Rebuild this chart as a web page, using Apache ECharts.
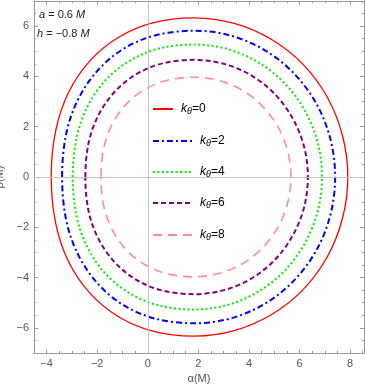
<!DOCTYPE html>
<html>
<head>
<meta charset="utf-8">
<script src="https://cdn.jsdelivr.net/npm/echarts@6/dist/echarts.min.js"></script>
<style>
  html, body { margin: 0; padding: 0; background: #fff; }
  #chart { width: 366px; height: 388px; }
</style>
</head>
<body>
<div id="chart"></div>
<script>
// shadow outlines (alpha, beta), one closed loop per k_theta
const shadowK0 = [
  [-3.82, 0], [-3.64, 1.85], [-3.13, 3.37], [-2.29, 4.62], [-1.17, 5.55], [0.19, 6.13], [1.85, 6.33],
  [3.42, 6.11], [4.88, 5.48], [6.14, 4.48], [7.10, 3.17], [7.70, 1.64], [7.91, 0],
  [7.70, -1.64], [7.10, -3.17], [6.14, -4.48], [4.88, -5.48], [3.42, -6.11], [1.85, -6.33],
  [0.19, -6.13], [-1.17, -5.55], [-2.29, -4.62], [-3.13, -3.37], [-3.64, -1.85], [-3.82, 0]
]
const shadowK2 = [
  [-3.39, 0], [-3.23, 1.70], [-2.75, 3.10], [-1.97, 4.25], [-0.94, 5.11], [0.32, 5.64], [1.85, 5.82],
  [3.29, 5.62], [4.63, 5.04], [5.78, 4.12], [6.67, 2.91], [7.22, 1.51], [7.41, 0],
  [7.22, -1.51], [6.67, -2.91], [5.78, -4.12], [4.63, -5.04], [3.29, -5.62], [1.85, -5.82],
  [0.32, -5.64], [-0.94, -5.11], [-1.97, -4.25], [-2.75, -3.10], [-3.23, -1.70], [-3.39, 0]
]
const shadowK4 = [
  [-2.97, 0], [-2.82, 1.54], [-2.38, 2.81], [-1.67, 3.85], [-0.72, 4.62], [0.44, 5.11], [1.85, 5.27],
  [3.15, 5.09], [4.37, 4.56], [5.41, 3.73], [6.21, 2.64], [6.72, 1.36], [6.89, 0],
  [6.72, -1.36], [6.21, -2.64], [5.41, -3.73], [4.37, -4.56], [3.15, -5.09], [1.85, -5.27],
  [0.44, -5.11], [-0.72, -4.62], [-1.67, -3.85], [-2.38, -2.81], [-2.82, -1.54], [-2.97, 0]
]
const shadowK6 = [
  [-2.47, 0], [-2.34, 1.36], [-1.94, 2.48], [-1.30, 3.40], [-0.45, 4.09], [0.59, 4.52], [1.85, 4.66],
  [3.01, 4.50], [4.09, 4.04], [5.02, 3.30], [5.73, 2.33], [6.18, 1.21], [6.33, 0],
  [6.18, -1.21], [5.73, -2.33], [5.02, -3.30], [4.09, -4.04], [3.01, -4.50], [1.85, -4.66],
  [0.59, -4.52], [-0.45, -4.09], [-1.30, -3.40], [-1.94, -2.48], [-2.34, -1.36], [-2.47, 0]
]
const shadowK8 = [
  [-1.85, 0], [-1.74, 1.16], [-1.40, 2.11], [-0.85, 2.90], [-0.12, 3.48], [0.77, 3.85], [1.85, 3.97],
  [2.84, 3.83], [3.76, 3.44], [4.54, 2.81], [5.15, 1.99], [5.53, 1.03], [5.66, 0],
  [5.53, -1.03], [5.15, -1.99], [4.54, -2.81], [3.76, -3.44], [2.84, -3.83], [1.85, -3.97],
  [0.77, -3.85], [-0.12, -3.48], [-0.85, -2.90], [-1.40, -2.11], [-1.74, -1.16], [-1.85, 0]
]

const kValues = ['0', '2', '4', '6', '8']
const seriesNames = kValues.map(k => 'kθ=' + k)

const alphaRange = [-4.5, 8.55]
const betaRange = [-7, 7]
const xMajorTicks = [-4, -2, 0, 2, 4, 6, 8]
const xMinorTicks = [-4, -3.5, -3, -2.5, -2, -1.5, -1, -0.5, 0, 0.5, 1, 1.5, 2, 2.5, 3, 3.5, 4, 4.5, 5, 5.5, 6, 6.5, 7, 7.5, 8, 8.5]
const yMajorTicks = [-6, -4, -2, 0, 2, 4, 6]
const yMinorTicks = [-6.5, -6, -5.5, -5, -4.5, -4, -3.5, -3, -2.5, -2, -1.5, -1, -0.5, 0, 0.5, 1, 1.5, 2, 2.5, 3, 3.5, 4, 4.5, 5, 5.5, 6, 6.5]

const FONT = '"Liberation Sans", Arial, sans-serif'
const frameGray = '#9a9a9a'
const labelGray = '#555'

const fmtTick = (v) => v < 0 ? '\u2212' + Math.abs(v) : String(v)

function frameAxis (range, position, ticks, tickLen, withLabels) {
  return {
    type: 'value',
    position,
    min: range[0],
    max: range[1],
    axisLine: { show: true, onZero: false, lineStyle: { color: frameGray, width: 1 } },
    axisTick: { show: true, inside: true, length: tickLen, customValues: ticks, lineStyle: { color: frameGray, width: 1 } },
    axisLabel: withLabels
      ? { show: true, customValues: ticks, color: labelGray, fontSize: 11, fontFamily: FONT, margin: 5, formatter: fmtTick }
      : { show: false },
    splitLine: { show: false },
    minorTick: { show: false }
  }
}

const xBottom = frameAxis(alphaRange, 'bottom', xMajorTicks, 4, true)
xBottom.name = 'α(M)'
xBottom.nameLocation = 'middle'
xBottom.nameGap = 19
xBottom.nameTextStyle = { color: labelGray, fontSize: 11, fontFamily: FONT }

const yLeft = frameAxis(betaRange, 'left', yMajorTicks, 4, true)
yLeft.name = 'β(M)'
yLeft.nameLocation = 'middle'
yLeft.nameGap = 20
yLeft.nameTextStyle = { color: labelGray, fontSize: 11, fontFamily: FONT }

const colors = ['#ff0000', '#0000ff', '#00ee00', '#800080', '#ff8f8f']
const lineStyles = [
  { color: colors[0], width: 1.3, type: 'solid' },
  { color: colors[1], width: 2, type: [6, 3, 2, 3] },
  { color: colors[2], width: 2, type: [2, 2.5] },
  { color: colors[3], width: 2, type: [5, 3] },
  { color: colors[4], width: 1.6, type: [9, 6] }
]
const shadows = [shadowK0, shadowK2, shadowK4, shadowK6, shadowK8]
const legendTops = [103, 135, 166, 197, 229]
const legendWidths = [20, 39, 39, 39, 39]

// closed smooth outline through the points, positioned by the axes (api.coord)
function loopRenderer (points, ls) {
  return (params, api) => {
    if (params.dataIndex !== 0) return null
    let pts = points.map(p => api.coord(p))
    const first = pts[0], last = pts[pts.length - 1]
    if (Math.abs(first[0] - last[0]) < 0.01 && Math.abs(first[1] - last[1]) < 0.01) pts = pts.slice(0, -1)
    const n = pts.length
    const f = (v) => v.toFixed(2)
    let path = 'M' + f(pts[0][0]) + ' ' + f(pts[0][1])
    for (let i = 0; i < n; i++) {
      const p0 = pts[(i - 1 + n) % n], p1 = pts[i], p2 = pts[(i + 1) % n], p3 = pts[(i + 2) % n]
      const c1 = [p1[0] + (p2[0] - p0[0]) / 6, p1[1] + (p2[1] - p0[1]) / 6]
      const c2 = [p2[0] - (p3[0] - p1[0]) / 6, p2[1] - (p3[1] - p1[1]) / 6]
      path += 'C' + f(c1[0]) + ' ' + f(c1[1]) + ' ' + f(c2[0]) + ' ' + f(c2[1]) + ' ' + f(p2[0]) + ' ' + f(p2[1])
    }
    path += 'Z'
    return {
      type: 'path',
      shape: { pathData: path },
      style: {
        fill: 'none',
        stroke: ls.color,
        lineWidth: ls.width,
        lineDash: Array.isArray(ls.type) ? ls.type : null
      }
    }
  }
}

const chart = echarts.init(document.getElementById('chart'), null, { renderer: 'canvas' })

const option = {
  animation: false,
  backgroundColor: '#fff',
  grid: { left: 34, right: 2, top: 1, bottom: 35, containLabel: false, outerBoundsMode: 'none' },
  xAxis: [
    xBottom,
    frameAxis(alphaRange, 'bottom', xMinorTicks, 2, false),
    frameAxis(alphaRange, 'top', xMajorTicks, 4, false),
    frameAxis(alphaRange, 'top', xMinorTicks, 2, false)
  ],
  yAxis: [
    yLeft,
    frameAxis(betaRange, 'left', yMinorTicks, 2, false),
    frameAxis(betaRange, 'right', yMajorTicks, 4, false),
    frameAxis(betaRange, 'right', yMinorTicks, 2, false)
  ],
  legend: seriesNames.map((name, i) => ({
    data: [name],
    left: 152,
    top: legendTops[i],
    padding: 0,
    itemWidth: legendWidths[i],
    itemHeight: 10,
    selectedMode: false,
    itemStyle: { opacity: 0, borderWidth: 0 },
    formatter: (n) => '{i|k}{s|θ}{n|=' + n.split('=')[1] + '}',
    textStyle: {
      color: '#000',
      fontSize: 12,
      fontFamily: FONT,
      padding: [0, 0, 0, 3],
      rich: {
        i: { fontStyle: 'italic', fontSize: 12, fontFamily: FONT },
        s: { fontStyle: 'italic', fontSize: 9, fontFamily: FONT, padding: [5, 0, 0, 0] },
        n: { fontSize: 12, fontFamily: FONT }
      }
    }
  })),
  graphic: [
    {
      type: 'text', left: 39, top: 9, silent: true,
      style: {
        text: '{i|a} = 0.6 {i|M}', fill: '#222', fontSize: 11, fontFamily: FONT,
        rich: { i: { fontStyle: 'italic', fontSize: 11, fontFamily: FONT } }
      }
    },
    {
      type: 'text', left: 37, top: 28, silent: true,
      style: {
        text: '{i|h} = \u22120.8 {i|M}', fill: '#222', fontSize: 11, fontFamily: FONT,
        rich: { i: { fontStyle: 'italic', fontSize: 11, fontFamily: FONT } }
      }
    }
  ],
  series: [
    {
      type: 'line',
      data: [],
      z: 1,
      silent: true,
      markLine: {
        silent: true,
        symbol: ['none', 'none'],
        label: { show: false },
        lineStyle: { color: '#c4c4c4', width: 1, type: 'solid' },
        data: [{ xAxis: 0 }, { yAxis: 0 }]
      }
    },
    // legend entries (line icons)
    ...shadows.map((d, i) => ({
      name: seriesNames[i],
      type: 'line',
      data: [],
      symbol: 'none',
      itemStyle: { color: colors[i] },
      lineStyle: lineStyles[i]
    })),
    // the outlines themselves
    ...shadows.map((d, i) => ({
      type: 'custom',
      data: d,
      z: 3,
      silent: true,
      clip: true,
      renderItem: loopRenderer(d, lineStyles[i])
    }))
  ]
}

chart.setOption(option)
</script>
</body>
</html>
